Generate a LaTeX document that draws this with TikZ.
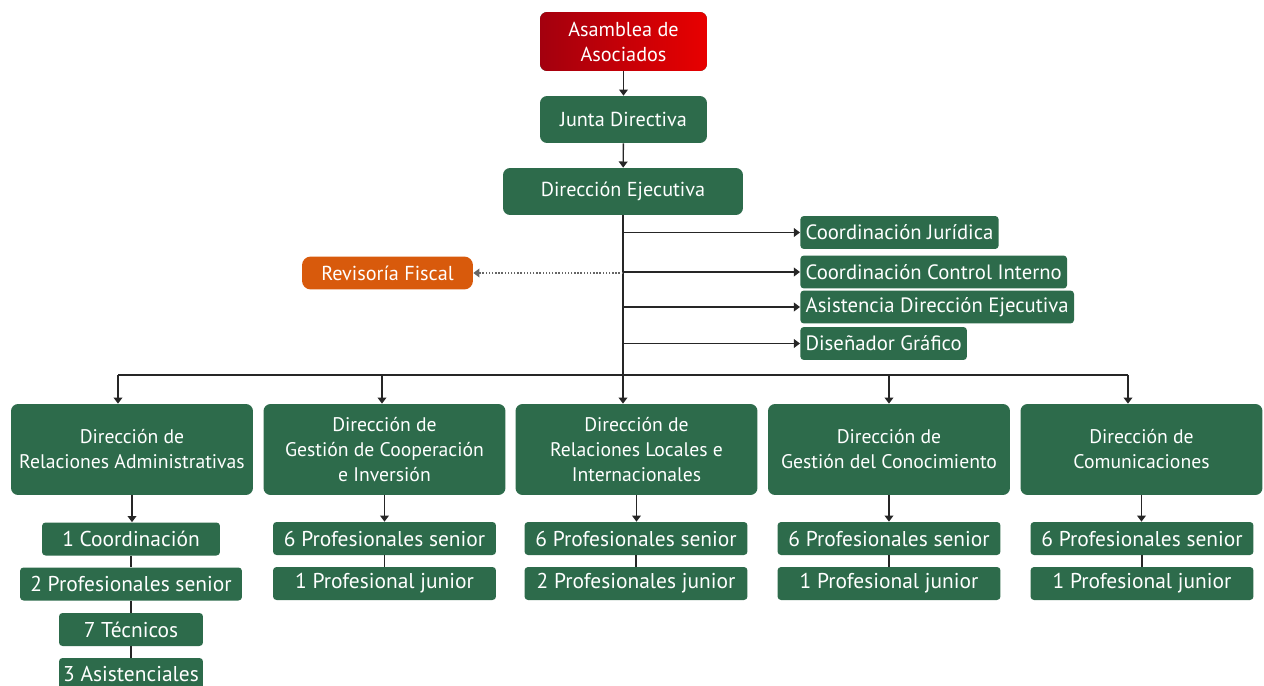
\documentclass[tikz,border=0pt]{standalone}
\usepackage{fontspec}
\setmainfont{PT Sans}
\usetikzlibrary{arrows.meta}

\definecolor{verde}{HTML}{2D6B4B}
\definecolor{naranja}{HTML}{D85A0C}
\definecolor{rojoosc}{HTML}{A3000E}
\definecolor{rojo}{HTML}{E80000}

\begin{document}
\begin{tikzpicture}[x=0.02cm, y=-0.02cm]

% Set the overall frame of the chart
\useasboundingbox (0,0) rectangle (1264,686);

% Define styles for boxes and connectors
\tikzstyle{caja} = [rectangle, rounded corners=4pt, fill=verde, text=white, inner sep=0pt, align=center, font=\fontsize{11.5}{14.2}\selectfont]
\tikzstyle{lateral} = [caja, rounded corners=2pt, anchor=west, inner xsep=3pt, minimum height=0.66cm, font=\fontsize{11.8}{14.2}\selectfont]
\tikzstyle{direccion} = [caja, minimum width=4.84cm, minimum height=1.82cm, font=\fontsize{11.2}{14.2}\selectfont]
\tikzstyle{cargo} = [caja, rounded corners=2pt, minimum width=4.46cm, minimum height=0.66cm, font=\fontsize{12.2}{14.2}\selectfont]
\tikzstyle{flecha} = [draw=black!85, line width=0.8pt, -{Triangle[width=5pt,length=3.5pt]}]
\tikzstyle{linea} = [draw=black!85, line width=0.8pt]

% Top of the chart
\node[caja, left color=rojoosc, right color=rojo, minimum width=3.34cm, minimum height=1.18cm] (asamblea) at (623.5,41.5) {Asamblea de\\Asociados};
\node[caja, minimum width=3.34cm, minimum height=0.94cm] (junta) at (623.5,119.5) {Junta Directiva};
\node[caja, minimum width=4.8cm, minimum height=0.94cm] (ejecutiva) at (623,191.5) {Dirección Ejecutiva};

% Support units on the side
\node[lateral] (juridica) at (800,232.5) {Coordinación Jurídica};
\node[lateral] (control) at (800,272) {Coordinación Control Interno};
\node[lateral] (asistencia) at (800,307) {Asistencia Dirección Ejecutiva};
\node[lateral] (disenador) at (800,343.5) {Diseñador Gráfico};
\node[caja, fill=naranja, rounded corners=5pt, minimum width=3.42cm, minimum height=0.66cm] (revisoria) at (387.5,273) {Revisoría Fiscal};

% Directions
\node[direccion] (d1) at (132,449.5) {Dirección de\\Relaciones Administrativas};
\node[direccion] (d2) at (384.5,449.5) {Dirección de\\Gestión de Cooperación\\e Inversión};
\node[direccion] (d3) at (636.5,449.5) {Dirección de\\Relaciones Locales e\\Internacionales};
\node[direccion] (d4) at (889,449.5) {Dirección de\\Gestión del Conocimiento};
\node[direccion] (d5) at (1141.5,449.5) {Dirección de\\Comunicaciones};

% Staff of each direction
\node[cargo, minimum width=3.56cm] (c11) at (131,539) {1 Coordinación};
\node[cargo, minimum width=4.44cm] (c12) at (131,584) {2 Profesionales senior};
\node[cargo, minimum width=2.88cm] (c13) at (131,629.5) {7 Técnicos};
\node[cargo, minimum width=2.88cm] (c14) at (131,674.5) {3 Asistenciales};
\node[cargo] (c21) at (384.5,538.5) {6 Profesionales senior};
\node[cargo] (c22) at (384.5,583.5) {1 Profesional junior};
\node[cargo] (c31) at (636,538.5) {6 Profesionales senior};
\node[cargo] (c32) at (636,583.5) {2 Profesionales junior};
\node[cargo] (c41) at (889,538.5) {6 Profesionales senior};
\node[cargo] (c42) at (889,583.5) {1 Profesional junior};
\node[cargo] (c51) at (1142,538.5) {6 Profesionales senior};
\node[cargo] (c52) at (1142,583.5) {1 Profesional junior};

% Connectors
\draw[flecha] (asamblea) -- (junta);
\draw[flecha] (junta) -- (ejecutiva);
\draw[flecha] (ejecutiva.south) -- (ejecutiva.south |- d3.north);
\foreach \n in {juridica, control, asistencia, disenador}
  \draw[flecha] (ejecutiva.south |- \n.west) -- (\n.west);
\draw[flecha, draw=black!60, densely dotted] (ejecutiva.south |- revisoria.east) -- (revisoria.east);

% Bus to the directions
\coordinate (b1) at (118,375);
\coordinate (b2) at (382,375);
\coordinate (b4) at (889,375);
\coordinate (b5) at (1128,375);
\draw[linea] (b1) -- (b5);
\foreach \i in {1,2,4,5}
  \draw[flecha] (b\i) -- (b\i |- d\i.north);

\foreach \i in {1,...,5}
  \draw[flecha] (d\i.south) -- (d\i.south |- c\i1.north);
\draw[linea] (c11) -- (c12);
\draw[linea] (c12) -- (c13);
\draw[linea] (c13) -- (c14);
\foreach \i in {2,...,5}
  \draw[linea] (c\i1) -- (c\i2);

\end{tikzpicture}
\end{document}
